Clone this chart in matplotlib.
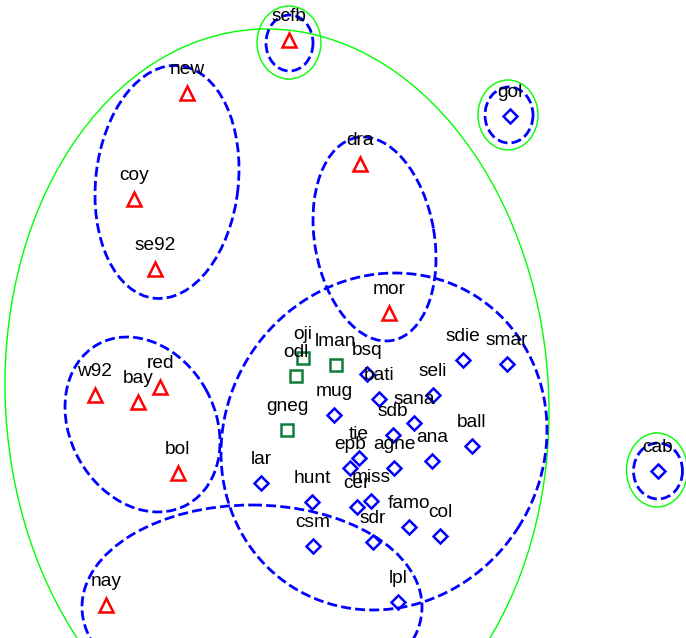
import numpy as np
import matplotlib
matplotlib.use("Agg")
import matplotlib.pyplot as plt
from matplotlib.patches import Ellipse

plt.rcParams["font.family"] = ["Liberation Sans", "DejaVu Sans"]

# Cluster 1 (open triangles)
tri_names = ["scfb", "new", "coy", "se92", "dra", "mor", "w92", "bay", "red", "bol", "nay"]
tri_x = [289, 187, 134, 155, 360, 389, 95, 138, 160, 178, 106]
tri_y = [40, 93, 199, 269, 164, 313, 395, 402, 387, 473, 605]

# Cluster 2 (open squares)
sq_names = ["oji", "odl", "lman", "gneg"]
sq_x = [303, 296, 336, 287]
sq_y = [358, 376, 365, 430]

# Cluster 3 (open diamonds)
dia_names = ["bsq", "bati", "mug", "seli", "sana", "sdb", "ana", "tie", "epb",
             "agne", "miss", "cer", "hunt", "famo", "col", "csm", "sdr", "lpl",
             "sdie", "smar", "ball", "lar", "gol", "cab"]
dia_x = [367, 379, 334, 433, 414, 393, 432, 359, 350, 394, 371, 357, 312, 409,
         440, 313, 373, 398, 463, 507, 472, 261, 510, 658]
dia_y = [374, 399, 415, 395, 423, 435, 461, 458, 468, 468, 501, 507, 502, 527,
         536, 546, 542, 602, 360, 364, 446, 483, 116, 471]

# Dashed spanning ellipses: centre, half extents along x / y, shift of the top point
ell_cx = [289.5, 509, 658, 167, 374.5, 142.5, 384, 252]
ell_cy = [43, 115, 471, 182, 239, 424.5, 441.5, 607]
ell_ex = [23.5, 24, 24.5, 72, 61.5, 77.5, 163, 170]
ell_ey = [28, 28, 28, 116.5, 102, 87.5, 168.5, 102]
ell_tx = [0, 0, 0, 8, -11.5, -15.5, 11, 0]

# Solid outer ellipses
out_cx = [289, 508, 657, 277]
out_cy = [42.5, 115, 470, 398]
out_ex = [32, 30, 30.5, 272]
out_ey = [36.5, 35, 37, 369]
out_tx = [0, 0, 0, -10]


def ellipse_patch(cx, cy, ex, ey, tx, **kw):
    sxy = -tx * ey
    cov = np.array([[ex ** 2, sxy], [sxy, ey ** 2]])
    vals, vecs = np.linalg.eigh(cov)
    v = vecs[:, 1]
    ang = np.degrees(np.arctan2(v[1], v[0]))
    return Ellipse((cx, cy), 2 * np.sqrt(vals[1]), 2 * np.sqrt(vals[0]),
                   angle=ang, fill=False, **kw)


fig = plt.figure(figsize=(6.86, 6.38), dpi=100)
ax = fig.add_axes([0, 0, 1, 1])
ax.set_xlim(0, 686)
ax.set_ylim(638, 0)
ax.axis("off")

for p in zip(out_cx, out_cy, out_ex, out_ey, out_tx):
    ax.add_patch(ellipse_patch(*p, edgecolor="#00ff00", linewidth=1.0, zorder=1))

for p in zip(ell_cx, ell_cy, ell_ex, ell_ey, ell_tx):
    ax.add_patch(ellipse_patch(*p, edgecolor="#0000ff", linewidth=2.0,
                               linestyle=(0, (3.6, 1.5)), zorder=2))

ax.plot(tri_x, tri_y, linestyle="none", marker="^", markersize=10,
        markerfacecolor="none", markeredgecolor="#ff0000", markeredgewidth=1.8, zorder=3)
ax.plot(sq_x, sq_y, linestyle="none", marker="s", markersize=8,
        markerfacecolor="none", markeredgecolor="#137d3c", markeredgewidth=1.8, zorder=3)
ax.plot(dia_x, dia_y, linestyle="none", marker="D", markersize=7.3,
        markerfacecolor="none", markeredgecolor="#0000ff", markeredgewidth=1.8, zorder=3)

for names, xs, ys in [(tri_names, tri_x, tri_y), (sq_names, sq_x, sq_y),
                      (dia_names, dia_x, dia_y)]:
    for n, x, y in zip(names, xs, ys):
        ax.annotate(n, (x, y), xytext=(0, 14), textcoords="offset points",
                    ha="center", va="baseline", fontsize=13.8, color="black", zorder=4)

fig.savefig("out.png", dpi=100)
